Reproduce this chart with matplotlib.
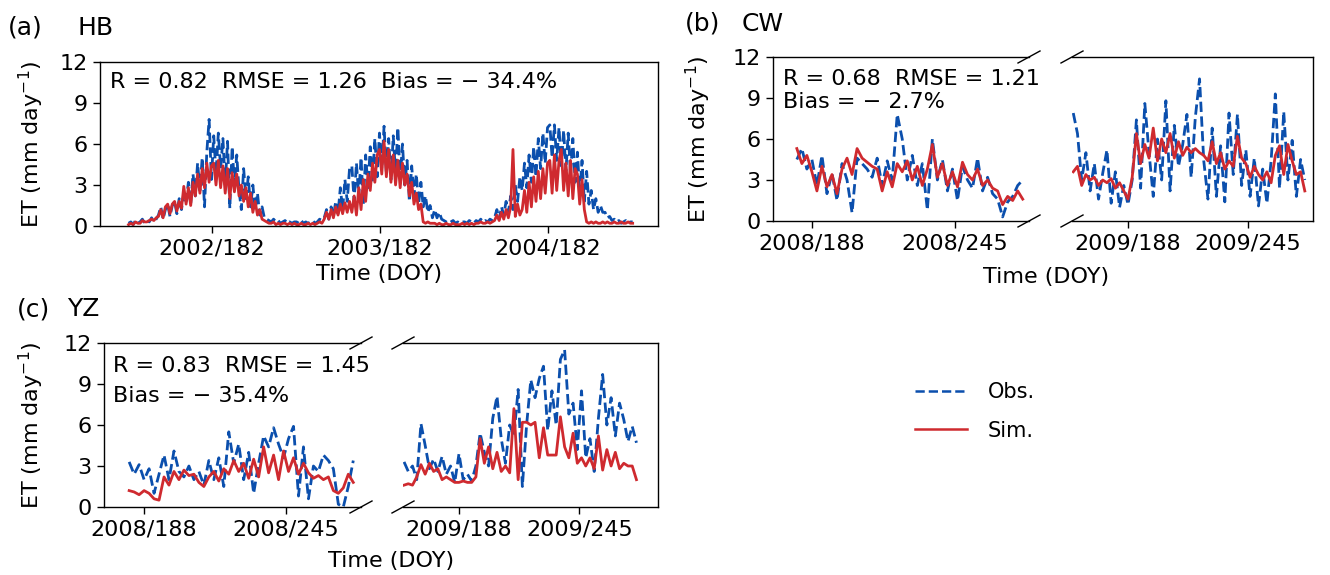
import numpy as np
import matplotlib
matplotlib.use("Agg")
import matplotlib.pyplot as plt
from matplotlib.lines import Line2D

plt.rcParams['font.family'] = ['DejaVu Sans']

# ---------------- DATA ----------------
# Panel (a) HB: 5-day samples, day index counted from 2002/001
HB_start_day = 0
HB_step = 5
HB_obs = [
    # 2002
    0.2, 0.3, 0.1, 0.4, 0.2, 0.3, 0.5, 0.2, 0.4, 0.3, 0.6, 0.3, 0.5,
    0.8, 1.4, 0.5, 1.2, 1.6, 0.7, 1.5, 1.8, 0.9, 2.0, 1.2, 2.4,
    1.8, 3.2, 1.6, 3.8, 2.2, 4.6, 2.6, 5.0, 1.4, 5.4, 7.8, 3.4,
    6.6, 3.8, 6.8, 4.2, 6.4, 3.0, 6.2, 1.3, 5.8, 3.0, 5.2, 2.6,
    1.2, 4.2, 2.0, 3.6, 1.4, 3.0, 1.2, 2.4, 0.8, 1.4, 0.6, 0.5,
    0.4, 0.3, 0.5, 0.3, 0.4, 0.2, 0.3, 0.4, 0.2, 0.3, 0.2, 0.3,
    # 2003
    0.3, 0.2, 0.4, 0.2, 0.3, 0.2, 0.3, 0.4, 0.2, 0.3, 0.5, 0.4,
    0.6, 1.2, 0.5, 1.4, 0.7, 1.8, 0.9, 2.8, 1.2, 3.4, 1.8, 4.2,
    4.4, 1.8, 4.6, 2.2, 5.0, 1.6, 5.2, 2.8, 5.8, 3.2, 6.4, 3.6,
    6.8, 4.2, 7.3, 3.8, 6.4, 3.4, 6.6, 3.8, 7.2, 3.5, 6.0, 3.0,
    4.8, 1.8, 4.4, 2.2, 3.8, 1.6, 3.2, 1.4, 2.2, 1.0, 1.5, 0.6,
    1.2, 0.6, 1.0, 0.5, 0.4, 0.3, 0.2, 0.3, 0.4, 0.2, 0.3, 0.2, 0.3,
    # 2004
    0.3, 0.2, 0.4, 0.3, 0.2, 0.4, 0.3, 0.5, 0.3, 0.4, 0.3, 0.5, 0.4,
    0.6, 1.2, 0.5, 1.4, 0.8, 1.8, 1.0, 2.2, 1.2, 3.0, 1.8, 3.6,
    2.6, 4.6, 2.8, 5.2, 3.2, 5.8, 3.6, 6.4, 4.2, 6.8, 4.6, 7.2,
    7.4, 5.0, 7.4, 4.8, 7.2, 4.4, 7.0, 4.0, 6.8, 3.8, 6.4, 3.2,
    5.4, 2.4, 4.8, 1.8, 4.0, 1.6, 2.6, 1.2, 2.0, 1.0, 1.5, 1.0,
    1.0, 0.6, 0.7, 0.4, 0.5, 0.3, 0.4, 0.2, 0.3, 0.4, 0.2, 0.3, 0.3,
]
HB_sim = [
    # 2002
    0.1, 0.2, 0.1, 0.3, 0.2, 0.2, 0.4, 0.3, 0.3, 0.4, 0.5, 0.4, 0.6,
    0.7, 1.2, 0.6, 1.4, 1.6, 0.9, 1.6, 1.8, 1.1, 1.8, 1.3, 2.9,
    1.6, 2.8, 1.5, 3.2, 2.2, 3.8, 2.4, 4.2, 2.8, 4.6, 3.2, 4.4,
    4.6, 3.0, 4.8, 2.8, 4.4, 2.4, 4.2, 2.0, 3.9, 2.5, 3.8, 2.2,
    3.0, 1.8, 2.8, 1.4, 2.4, 1.0, 1.8, 0.8, 1.2, 0.5, 0.4, 0.3,
    0.2, 0.2, 0.3, 0.1, 0.2, 0.1, 0.2, 0.2, 0.1, 0.2, 0.1, 0.2,
    # 2003
    0.1, 0.1, 0.2, 0.1, 0.1, 0.2, 0.1, 0.2, 0.1, 0.2, 0.3, 0.2,
    0.5, 1.0, 0.5, 1.2, 0.6, 1.4, 0.8, 1.6, 0.9, 1.7, 1.0, 1.8,
    1.0, 2.2, 0.8, 2.8, 1.2, 3.4, 1.8, 3.8, 2.6, 4.6, 3.2, 5.2,
    5.6, 3.8, 6.2, 3.6, 5.6, 3.2, 5.2, 3.0, 4.8, 2.8, 4.6, 3.0,
    3.8, 2.2, 3.2, 1.6, 2.4, 1.2, 1.6, 0.3, 0.2, 0.3, 0.2, 0.2,
    0.2, 0.1, 0.2, 0.1, 0.1, 0.2, 0.1, 0.1, 0.2, 0.1, 0.1, 0.1, 0.2,
    # 2004
    0.1, 0.2, 0.1, 0.2, 0.1, 0.2, 0.2, 0.3, 0.2, 0.2, 0.3, 0.2, 0.3,
    0.4, 0.8, 0.4, 1.0, 0.5, 1.2, 0.6, 1.4, 5.6, 0.7, 1.6, 0.8,
    1.2, 2.6, 1.0, 3.2, 1.4, 3.6, 1.8, 4.0, 2.0, 4.2, 2.4, 4.6,
    4.8, 2.4, 5.2, 2.6, 4.8, 5.6, 2.6, 4.6, 2.2, 4.8, 2.0, 4.2,
    3.8, 1.6, 3.4, 1.2, 0.3, 0.2, 0.3, 0.2, 0.3, 0.2, 0.2, 0.3,
    0.2, 0.3, 0.2, 0.2, 0.3, 0.2, 0.2, 0.3, 0.2, 0.2, 0.3, 0.2, 0.2,
]
HB_tick_days = [181, 546, 911]
HB_tick_labels = ['2002/182', '2003/182', '2004/182']

# Panel (b) CW: 2-day samples (DOY)
CW08_first_doy, CW09_first_doy, CW_step = 182, 162, 2
CW08_obs = [4.5, 5.3, 3.8, 4.5, 2.6, 4.8, 2.0, 3.5, 1.5, 4.2,
            3.0, 0.6, 4.6, 4.2, 3.8, 3.2, 4.6, 2.6, 4.4, 3.0,
            7.8, 6.0, 3.0, 4.8, 2.6, 4.2, 0.8, 6.0, 3.0, 4.5,
            2.2, 3.8, 1.5, 4.0, 3.0, 2.4, 4.6, 2.2, 3.2, 2.0,
            1.6, 0.3, 1.4, 1.8, 2.6, 3.0]
CW08_sim = [5.3, 4.2, 4.8, 3.6, 2.2, 4.0, 2.5, 3.4, 2.0, 3.8,
            4.6, 3.4, 5.3, 4.6, 4.3, 4.0, 3.8, 2.2, 3.6, 2.5,
            4.2, 3.6, 4.4, 3.0, 4.0, 2.6, 3.8, 5.6, 3.2, 4.2,
            2.6, 3.6, 2.5, 4.3, 3.4, 3.0, 3.8, 2.6, 3.0, 2.4,
            2.2, 1.2, 1.8, 1.5, 2.2, 1.6]
CW09_obs = [7.9, 6.4, 3.0, 5.0, 2.2, 4.2, 1.6, 3.5, 5.2, 1.3,
            3.6, 1.0, 2.6, 1.2, 3.0, 7.4, 2.4, 8.6, 5.0, 1.8,
            6.0, 3.0, 8.8, 2.2, 7.0, 4.0, 5.6, 7.8, 3.2, 7.6,
            10.4, 4.4, 1.6, 6.8, 1.8, 5.5, 1.4, 7.9, 3.4, 7.8,
            2.6, 5.2, 1.8, 4.6, 1.1, 3.8, 1.3, 4.4, 9.3, 2.4,
            8.0, 3.0, 5.9, 1.8, 4.5, 3.0]
CW09_sim = [3.6, 4.0, 2.6, 3.4, 3.0, 3.2, 2.6, 3.0, 2.8, 3.1,
            2.4, 2.8, 2.2, 1.6, 3.2, 6.4, 4.2, 5.6, 4.6, 6.8,
            4.4, 6.0, 5.0, 6.4, 4.6, 5.8, 4.8, 5.4, 5.0, 5.3,
            5.0, 4.8, 4.4, 5.8, 4.2, 5.0, 3.8, 4.4, 4.0, 6.2,
            4.6, 4.2, 3.2, 4.0, 3.4, 3.0, 3.6, 2.8, 4.8, 5.5,
            3.4, 5.6, 4.4, 3.4, 3.6, 2.2]

# Panel (c) YZ: 2-day samples (DOY)
YZ08_first_doy, YZ09_first_doy, YZ_step = 182, 162, 2
YZ08_obs = [3.3, 2.4, 3.1, 2.0, 2.8, 1.0, 2.4, 3.8, 2.0, 4.1,
            2.6, 2.2, 3.0, 2.0, 2.6, 1.6, 3.4, 2.0, 3.6, 1.5,
            5.5, 3.2, 4.6, 2.0, 4.0, 1.0, 3.2, 5.2, 4.4, 5.8,
            4.6, 3.6, 5.0, 5.9, 0.8, 4.4, 0.6, 3.0, 2.6, 3.8,
            3.4, 2.8, 0.2, 0.0, 1.5, 3.4]
YZ08_sim = [1.2, 1.1, 0.9, 1.2, 1.0, 0.6, 0.5, 2.2, 1.6, 2.6,
            2.0, 2.7, 2.3, 2.4, 1.8, 1.5, 2.2, 2.6, 1.9, 2.8,
            2.4, 3.4, 2.6, 3.2, 2.1, 3.5, 2.2, 4.4, 2.5, 3.8,
            2.0, 4.1, 2.6, 3.6, 2.4, 3.2, 2.5, 2.1, 2.3, 2.0,
            2.2, 1.2, 1.0, 1.4, 2.4, 1.8]
YZ09_obs = [3.3, 2.6, 3.0, 2.0, 6.1, 4.5, 2.8, 3.5, 2.6, 3.7,
            2.4, 3.0, 1.8, 3.9, 2.0, 2.4, 1.9, 3.0, 5.4, 4.0,
            3.0, 6.5, 8.1, 5.0, 3.2, 6.0, 5.2, 8.6, 1.5, 6.0,
            9.3, 8.0, 9.4, 10.3, 5.6, 8.5, 6.0, 10.8, 11.5, 6.8,
            7.6, 4.2, 8.5, 3.6, 5.0, 2.6, 6.5, 9.7, 6.0, 8.0,
            5.2, 7.6, 6.4, 4.8, 5.9, 4.7]
YZ09_sim = [1.6, 1.7, 1.6, 2.2, 3.1, 2.4, 3.2, 2.6, 2.8, 2.0,
            2.2, 2.0, 1.8, 1.8, 1.9, 1.8, 1.8, 2.2, 5.0, 3.2,
            4.4, 2.8, 4.0, 2.6, 3.0, 2.5, 7.2, 2.0, 6.2, 6.2,
            6.0, 6.2, 3.6, 5.8, 3.8, 3.8, 3.8, 6.6, 4.4, 3.6,
            5.4, 3.2, 3.6, 3.0, 3.6, 2.8, 5.2, 2.7, 4.2, 3.0,
            4.0, 2.8, 3.2, 3.0, 3.0, 2.0]

BROKEN_TICK_DOY = [188, 245]
Y_TICKS = [0, 3, 6, 9, 12]

# ---------------- STYLE ----------------
OBS_C = '#0b4fad'
SIM_C = '#cf2a2f'
FS = 16
W, H = 1330, 575

fig = plt.figure(figsize=(W / 100, H / 100), dpi=100)


def add_ax(l, t, r, b):
    return fig.add_axes([l / W, 1 - b / H, (r - l) / W, (b - t) / H])


def style(ax):
    ax.set_ylim(0, 12)
    ax.set_yticks(Y_TICKS)
    ax.tick_params(direction='out', length=5, width=1, labelsize=FS, pad=4)
    for s in ax.spines.values():
        s.set_linewidth(1.0)


def fig_text(x, y, s, **kw):
    return fig.text(x / W, 1 - y / H, s, **kw)


def series_days(first, step, n):
    return first + step * np.arange(n)


# ---------------- (a) HB ----------------
axA = add_ax(100, 62, 658, 226)
style(axA)
axA.plot(series_days(HB_start_day, HB_step, len(HB_obs)), HB_obs,
         color=OBS_C, ls='--', lw=2.0)
axA.plot(series_days(HB_start_day, HB_step, len(HB_sim)), HB_sim,
         color=SIM_C, lw=2.0)
axA.set_xlim(-62, 1150)
axA.set_xticks(HB_tick_days)
axA.set_xticklabels(HB_tick_labels)
axA.set_xlabel('Time (DOY)', fontsize=FS)
fig_text(110, 88, 'R = 0.82  RMSE = 1.26  Bias = \u2212 34.4%',
         fontsize=FS, va='baseline')
fig_text(8, 35, '(a)', fontsize=18, va='baseline')
fig_text(78, 35, 'HB', fontsize=18, va='baseline')
fig_text(46, 144, 'ET (mm day$^{-1}$)', fontsize=FS, rotation=90,
         rotation_mode='anchor', ha='center', va='bottom')


def broken_pair(lbox, rbox, xlimL, xlimR, d08, o08, s08, d09, o09, s09):
    axL = add_ax(*lbox)
    axR = add_ax(*rbox)
    for ax in (axL, axR):
        style(ax)
        ax.set_xticks(BROKEN_TICK_DOY)
    axL.plot(d08, o08, color=OBS_C, ls='--', lw=2.0)
    axL.plot(d08, s08, color=SIM_C, lw=2.0)
    axR.plot(d09, o09, color=OBS_C, ls='--', lw=2.0)
    axR.plot(d09, s09, color=SIM_C, lw=2.0)
    axL.set_xlim(*xlimL)
    axR.set_xlim(*xlimR)
    axL.set_xticklabels(['2008/%d' % d for d in BROKEN_TICK_DOY])
    axR.set_xticklabels(['2009/%d' % d for d in BROKEN_TICK_DOY])
    axL.spines['right'].set_visible(False)
    axR.spines['left'].set_visible(False)
    axR.tick_params(left=False, labelleft=False)
    # diagonal break marks
    for ax, box, xs in ((axL, lbox, 1.0), (axR, rbox, 0.0)):
        wpx = box[2] - box[0]
        hpx = box[3] - box[1]
        dx, dy = 11.0 / wpx, 6.0 / hpx
        for ys in (0.0, 1.0):
            ax.plot([xs - dx, xs + dx], [ys - dy, ys + dy],
                    transform=ax.transAxes, color='k', lw=1.0,
                    clip_on=False)
    return axL, axR


# ---------------- (b) CW ----------------
broken_pair((773, 57, 1029, 221), (1072, 57, 1313, 221),
            (172.5, 274.5), (161.4, 275.9),
            series_days(CW08_first_doy, CW_step, len(CW08_obs)), CW08_obs, CW08_sim,
            series_days(CW09_first_doy, CW_step, len(CW09_obs)), CW09_obs, CW09_sim)
fig_text(783, 85, 'R = 0.68  RMSE = 1.21', fontsize=FS, va='baseline')
fig_text(783, 108, 'Bias = \u2212 2.7%', fontsize=FS, va='baseline')
fig_text(685, 31, '(b)', fontsize=18, va='baseline')
fig_text(742, 31, 'CW', fontsize=18, va='baseline')
fig_text(713, 139, 'ET (mm day$^{-1}$)', fontsize=FS, rotation=90,
         rotation_mode='anchor', ha='center', va='bottom')
fig_text(1046, 267, 'Time (DOY)', fontsize=FS, ha='center', va='top')

# ---------------- (c) YZ ----------------
broken_pair((104, 343, 361, 507), (403, 343, 658, 507),
            (171.9, 275.1), (161.5, 282.2),
            series_days(YZ08_first_doy, YZ_step, len(YZ08_obs)), YZ08_obs, YZ08_sim,
            series_days(YZ09_first_doy, YZ_step, len(YZ09_obs)), YZ09_obs, YZ09_sim)
fig_text(113, 372, 'R = 0.83  RMSE = 1.45', fontsize=FS, va='baseline')
fig_text(113, 402, 'Bias = \u2212 35.4%', fontsize=FS, va='baseline')
fig_text(17, 316, '(c)', fontsize=18, va='baseline')
fig_text(67, 316, 'YZ', fontsize=18, va='baseline')
fig_text(46, 425, 'ET (mm day$^{-1}$)', fontsize=FS, rotation=90,
         rotation_mode='anchor', ha='center', va='bottom')
fig_text(391, 551, 'Time (DOY)', fontsize=FS, ha='center', va='top')

# ---------------- legend ----------------
handles = [Line2D([], [], color=OBS_C, ls='--', lw=1.8),
           Line2D([], [], color=SIM_C, lw=1.8)]
fig.legend(handles, ['Obs.', 'Sim.'], loc='upper left',
           bbox_to_anchor=(915 / W, 1 - 382 / H), frameon=False,
           fontsize=FS - 1, handlelength=2.5, handletextpad=1.0,
           labelspacing=0.9, borderpad=0, borderaxespad=0)

fig.savefig('out.png', dpi=100, facecolor='white')
